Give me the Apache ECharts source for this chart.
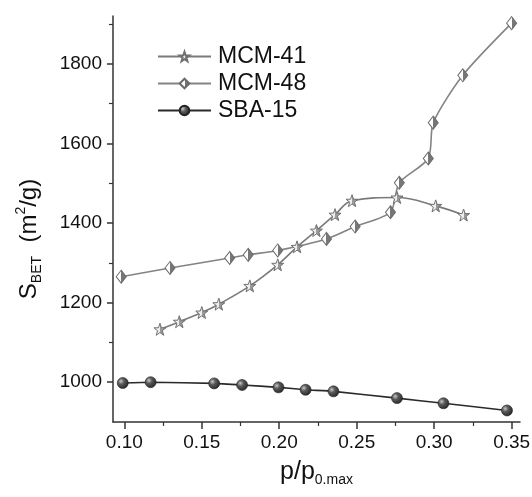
<!DOCTYPE html>
<html><head><meta charset="utf-8">
<script src="https://cdn.jsdelivr.net/npm/echarts@6/dist/echarts.min.js"></script>
<style>html,body{margin:0;padding:0;background:#fff}#c{width:532px;height:497px}</style>
</head><body><div id="c"></div>
<script>
const seriesNames = ['MCM-41', 'MCM-48', 'SBA-15'];
const mcm41X = [0.123, 0.1355, 0.150, 0.161, 0.181, 0.199, 0.2115, 0.224, 0.236, 0.247, 0.276, 0.301, 0.319];
const mcm41Y = [1133, 1152, 1175, 1196, 1242, 1295, 1340, 1381, 1421, 1456, 1464, 1443, 1420];
const mcm48X = [0.098, 0.1295, 0.168, 0.180, 0.199, 0.2305, 0.249, 0.2718, 0.2775, 0.2962, 0.2994, 0.3185, 0.350];
const mcm48Y = [1265, 1287, 1312, 1320, 1331, 1360, 1391, 1427, 1501, 1562, 1652, 1771, 1902];
const sba15X = [0.099, 0.117, 0.158, 0.176, 0.1995, 0.217, 0.235, 0.276, 0.306, 0.347];
const sba15Y = [998, 1000, 997, 993, 987, 981, 977, 960, 947, 929];
const xTicks = [0.10, 0.15, 0.20, 0.25, 0.30, 0.35];
const xMinorTicks = [0.125, 0.175, 0.225, 0.275, 0.325];
const yTicks = [1000, 1200, 1400, 1600, 1800];
const yMinorTicks = [1100, 1300, 1500, 1700, 1900];

const pair = (xs, ys) => xs.map((x, i) => [x, ys[i]]);
const FONT = 'Liberation Sans, Arial, sans-serif';
const xMin = 0.0927, xMax = 0.3554, yMin = 900, yMax = 1920;

const starPath = 'path://M0,-10L2.35,-3.24L9.51,-3.09L3.8,1.24L5.88,8.09L0,4L-5.88,8.09L-3.8,1.24L-9.51,-3.09L-2.35,-3.24Z';

const halfFill = (a, b) => ({type: 'linear', x: 0, y: 0, x2: 1, y2: 0,
  colorStops: [{offset: 0, color: a}, {offset: 0.5, color: a}, {offset: 0.5, color: b}, {offset: 1, color: b}]});

const chart = echarts.init(document.getElementById('c'), null, {renderer: 'canvas'});
const axisLine = {show: true, lineStyle: {color: '#333', width: 1.5}};
chart.setOption({
  animation: false,
  backgroundColor: '#fff',
  grid: {left: 113, right: 12, top: 16, bottom: 75, containLabel: false, outerBoundsMode: 'none'},
  legend: {
    orient: 'vertical', left: 152, top: 40, itemWidth: 53, itemHeight: 12, itemGap: 4,
    data: seriesNames,
    textStyle: {fontFamily: FONT, fontSize: 23, color: '#111', padding: [0, 0, 0, 2]}
  },
  xAxis: [{
    type: 'value', min: xMin, max: xMax, position: 'bottom',
    axisLine: axisLine,
    splitLine: {show: false},
    axisTick: {show: true, customValues: xTicks, length: 7, inside: false, lineStyle: {color: '#333', width: 1.5}},
    axisLabel: {customValues: xTicks, formatter: v => v.toFixed(2), fontFamily: FONT, fontSize: 19, color: '#111', margin: 11},
    name: '{p|p/p}{sub|0.max}',
    nameLocation: 'middle', nameGap: 33,
    nameTextStyle: {
      rich: {
        p: {fontFamily: FONT, fontSize: 25, color: '#111', lineHeight: 30},
        sub: {fontFamily: FONT, fontSize: 14, color: '#111', lineHeight: 14, padding: [16, 0, 0, 0]}
      }
    }
  }, {
    type: 'value', min: xMin, max: xMax, position: 'bottom', gridIndex: 0,
    axisLine: {show: false}, splitLine: {show: false},
    axisTick: {show: true, customValues: xMinorTicks, length: 4, lineStyle: {color: '#333', width: 1.2}},
    axisLabel: {show: false}
  }],
  yAxis: [{
    type: 'value', min: yMin, max: yMax, position: 'left',
    axisLine: axisLine,
    splitLine: {show: false},
    axisTick: {show: true, customValues: yTicks, length: 6, lineStyle: {color: '#333', width: 1.5}},
    axisLabel: {customValues: yTicks, formatter: v => String(v), fontFamily: FONT, fontSize: 19, color: '#111', margin: 11},
    name: '{s|S}{sub|BET}{s|  (m}{sup|2}{s|/g)}',
    nameLocation: 'middle', nameGap: 72,
    nameTextStyle: {
      padding: [0, 40, 0, 0],
      rich: {
        s: {fontFamily: FONT, fontSize: 24, color: '#111', lineHeight: 24},
        sub: {fontFamily: FONT, fontSize: 14, color: '#111', lineHeight: 14, padding: [16, 0, 0, 0]},
        sup: {fontFamily: FONT, fontSize: 14, color: '#111', lineHeight: 14, padding: [0, 0, 16, 0]}
      }
    }
  }, {
    type: 'value', min: yMin, max: yMax, position: 'left', gridIndex: 0,
    axisLine: {show: false}, splitLine: {show: false},
    axisTick: {show: true, customValues: yMinorTicks, length: 4, lineStyle: {color: '#333', width: 1.2}},
    axisLabel: {show: false}
  }],
  series: [{
    name: seriesNames[0], type: 'line', smooth: 0.4,
    data: pair(mcm41X, mcm41Y),
    symbol: starPath, symbolSize: 12,
    lineStyle: {color: '#7a7a7a', width: 1.6},
    itemStyle: {color: halfFill('#eeeeee', '#9a9a9a'), borderColor: '#707070', borderWidth: 1}
  }, {
    name: seriesNames[1], type: 'line', smooth: 0.25,
    data: pair(mcm48X, mcm48Y),
    symbol: 'diamond', symbolSize: [10, 13],
    lineStyle: {color: '#838383', width: 1.6},
    itemStyle: {color: halfFill('#ffffff', '#777777'), borderColor: '#6a6a6a', borderWidth: 1}
  }, {
    name: seriesNames[2], type: 'line', smooth: 0.15,
    data: pair(sba15X, sba15Y),
    symbol: 'circle', symbolSize: 11,
    lineStyle: {color: '#2a2a2a', width: 1.6},
    itemStyle: {
      color: {type: 'radial', x: 0.35, y: 0.35, r: 0.75,
        colorStops: [{offset: 0, color: '#c8c8c8'}, {offset: 0.35, color: '#5a5a5a'}, {offset: 1, color: '#1e1e1e'}]},
      borderColor: '#222', borderWidth: 0.6
    }
  }]
});
</script>
</body></html>
